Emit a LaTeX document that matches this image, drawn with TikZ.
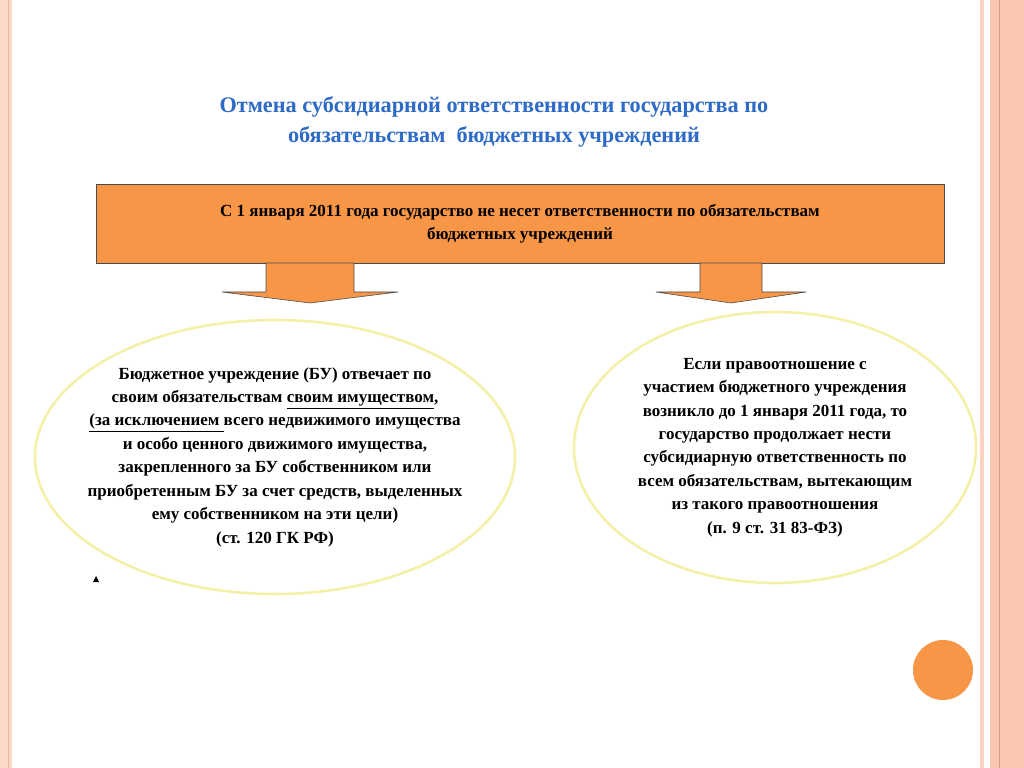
\documentclass[tikz,border=0pt]{standalone}
\usepackage{fontspec}
\setmainfont{Liberation Serif}
\usepackage{tikz}
\usetikzlibrary{calc,shapes.geometric}

\definecolor{orangefill}{HTML}{F79646}
\definecolor{titleblue}{HTML}{2E6BC6}
\definecolor{pinkband}{HTML}{FBC7B0}
\definecolor{ovalline}{HTML}{F5F0A8}

\tikzset{
  body/.style={font=\bfseries\fontsize{14.5}{20}\selectfont,align=center},
  oval/.style={ellipse,draw=ovalline,line width=2.2pt,fill=white},
  downarrow/.style={fill=orangefill,draw=black!70,line width=0.5pt}
}

\begin{document}
\begin{tikzpicture}[x=0.03cm,y=-0.03cm]
\useasboundingbox (0,0) rectangle (1024,768);
\fill[white] (0,0) rectangle (1024,768);
%% page borders
\fill[pinkband!70] (0,0) rectangle (12,768);
\draw[pinkband!90!black,line width=0.6pt] (8,0) -- (8,768);
\fill[pinkband!80] (980,0) rectangle (984,768);
\fill[pinkband] (990,0) rectangle (1024,768);
\draw[pinkband!80!black,line width=0.6pt] (999,0) -- (999,768);

%% title
\node[text=titleblue,font=\bfseries\fontsize{19}{26}\selectfont,align=center] (title) at (494,122)
  {\textsc{Отмена субсидиарной ответственности государства по}\\
   \textsc{обязательствам \ бюджетных учреждений}};

%% top box
\node[draw=black!70,fill=orangefill,minimum width=848*0.03cm,minimum height=79*0.03cm,body] (top) at (520,223.5)
  {С 1 января 2011 года государство не несет ответственности по обязательствам\\ бюджетных учреждений};

%% arrows
\foreach \cx/\sw/\hw in {310/44/88, 731/31/75}
  \draw[downarrow] (\cx-\sw,263) -- (\cx+\sw,263) -- (\cx+\sw,292) -- (\cx+\hw,292)
    -- (\cx,303) -- (\cx-\hw,292) -- (\cx-\sw,292) -- cycle;

%% ovals
\node[oval,minimum width=480*0.03cm,minimum height=274*0.03cm] (left) at (275,457) {};
\node[body] at (left.center)
  {Бюджетное учреждение (БУ) отвечает по\\
   своим обязательствам \underline{своим имуществом},\\
   \underline{(за исключением }всего недвижимого имущества\\
   и особо ценного движимого имущества,\\
   закрепленного за БУ собственником или\\
   приобретенным БУ за счет средств, выделенных\\
   ему собственником на эти цели)\\
   (ст. 120 ГК РФ)};
\fill (93,582) -- (99,582) -- (96,576) -- cycle;

\node[oval,minimum width=402*0.03cm,minimum height=271*0.03cm] (right) at (775,447.5) {};
\node[body] at (right.center)
  {Если правоотношение с\\
   участием бюджетного учреждения\\
   возникло до 1 января 2011 года, то\\
   государство продолжает нести\\
   субсидиарную ответственность по\\
   всем обязательствам, вытекающим\\
   из такого правоотношения\\
   (п. 9 ст. 31 83-ФЗ)};

%% corner dot
\fill[orangefill] (943,670) circle (30);
\end{tikzpicture}
\end{document}
